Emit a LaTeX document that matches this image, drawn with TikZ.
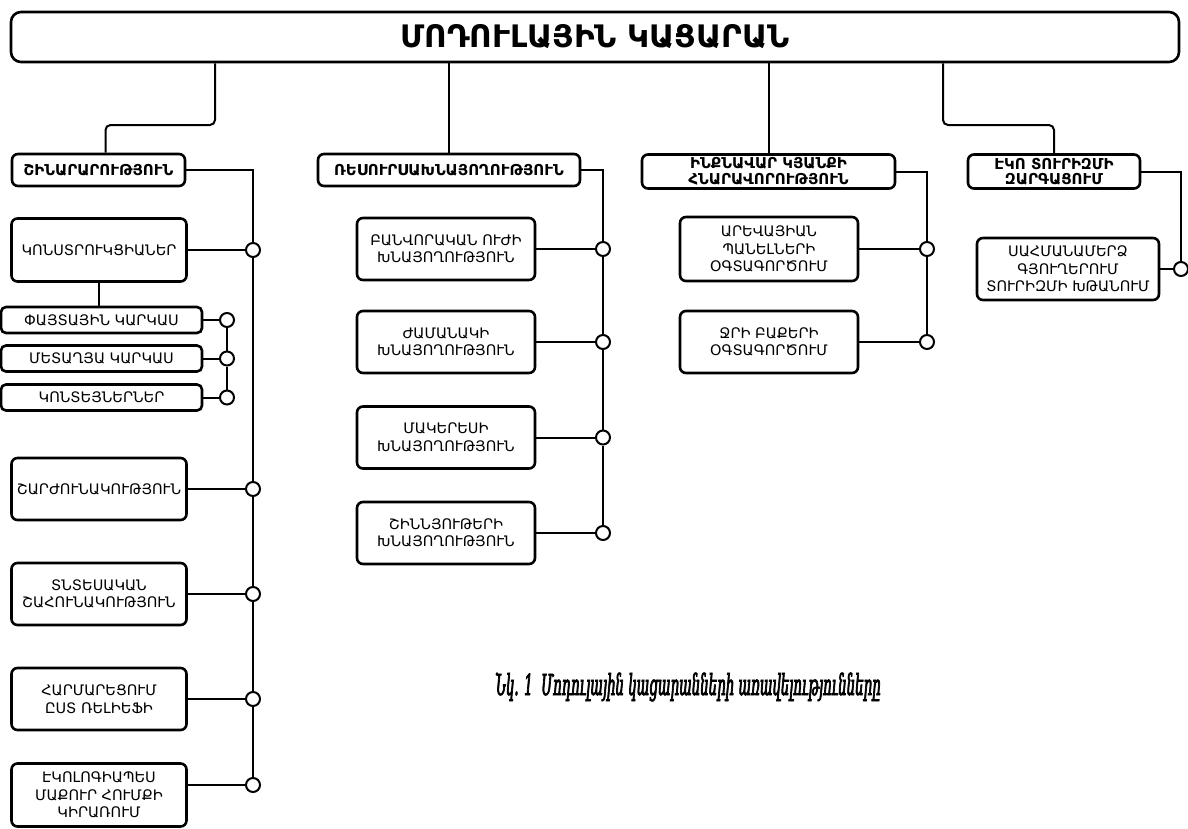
\documentclass[tikz,border=0pt]{standalone}
\usepackage{fontspec}
\setmainfont{DejaVu Sans}
\newfontfamily\capfont[FakeStretch=0.46, FakeBold=2.4]{DejaVu Serif}
\begin{document}
\begin{tikzpicture}[x=1pt, y=-1pt, line width=2pt,
  every node/.style={align=center, inner sep=1.5pt},
  box/.style={draw, line width=2.6pt, rounded corners=6pt, font=\fontsize{14.5}{17.5}\selectfont},
  head/.style={box, font=\bfseries\fontsize{15}{15.5}\selectfont},
  dot/.style={draw, circle, fill=white, line width=2pt, minimum size=14pt, inner sep=0pt}]
\useasboundingbox (0,0) rectangle (1188,828);

\node (main) [box, minimum width=1168, minimum height=50, rounded corners=10pt, font=\bfseries\fontsize{31}{33}\selectfont] at (595,37) {ՄՈԴՈՒԼԱՅԻՆ ԿԱՑԱՐԱՆ};

\node (build) [head, minimum width=173, minimum height=32] at (98.5,170) {ՇԻՆԱՐԱՐՈՒԹՅՈՒՆ};
\node (res) [head, minimum width=262, minimum height=32] at (449,170) {ՌԵՍՈՒՐՍԱԽՆԱՅՈՂՈՒԹՅՈՒՆ};
\node (auto) [head, minimum width=253, minimum height=34] at (768.5,171.5) {ԻՆՔՆԱՎԱՐ ԿՅԱՆՔԻ\\ՀՆԱՐԱՎՈՐՈՒԹՅՈՒՆ};
\node (eco) [head, minimum width=172, minimum height=34] at (1054,171.5) {ԷԿՈ ՏՈՒՐԻԶՄԻ\\ԶԱՐԳԱՑՈՒՄ};

\node (constr) [box, minimum width=175, minimum height=63] at (99,250) {ԿՈՆՍՏՐՈՒԿՑԻԱՆԵՐ};
\node (wood) [box, minimum width=201, minimum height=26, rounded corners=5pt] at (101.5,320) {ՓԱՅՏԱՅԻՆ ԿԱՐԿԱՍ};
\node (metal) [box, minimum width=201, minimum height=26, rounded corners=5pt] at (101.5,358.5) {ՄԵՏԱՂՅԱ ԿԱՐԿԱՍ};
\node (cont) [box, minimum width=201, minimum height=26, rounded corners=5pt] at (101.5,397.5) {ԿՈՆՏԵՅՆԵՐՆԵՐ};
\node (mobile) [box, minimum width=175, minimum height=62] at (99,489) {ՇԱՐԺՈՒՆԱԿՈՒԹՅՈՒՆ};
\node (econ) [box, minimum width=175, minimum height=62] at (99,594) {ՏՆՏԵՍԱԿԱՆ\\ՇԱՀՈՒՆԱԿՈՒԹՅՈՒՆ};
\node (relief) [box, minimum width=175, minimum height=62] at (99,699) {ՀԱՐՄԱՐԵՑՈՒՄ\\ԸՍՏ ՌԵԼԻԵՖԻ};
\node (green) [box, minimum width=175, minimum height=63] at (99,795) {ԷԿՈԼՈԳԻԱՊԵՍ\\ՄԱՔՈՒՐ ՀՈՒՄՔԻ\\ԿԻՐԱՌՈՒՄ};

\node (labor) [box, minimum width=178, minimum height=62] at (446,249) {ԲԱՆՎՈՐԱԿԱՆ ՈՒԺԻ\\ԽՆԱՅՈՂՈՒԹՅՈՒՆ};
\node (time) [box, minimum width=178, minimum height=62] at (446,342) {ԺԱՄԱՆԱԿԻ\\ԽՆԱՅՈՂՈՒԹՅՈՒՆ};
\node (area) [box, minimum width=178, minimum height=62] at (446,437.5) {ՄԱԿԵՐԵՍԻ\\ԽՆԱՅՈՂՈՒԹՅՈՒՆ};
\node (mat) [box, minimum width=178, minimum height=62] at (446,533) {ՇԻՆՆՅՈՒԹԵՐԻ\\ԽՆԱՅՈՂՈՒԹՅՈՒՆ};

\node (solar) [box, minimum width=178, minimum height=64] at (769,249) {ԱՐԵՎԱՅԻԱՆ\\ՊԱՆԵԼՆԵՐԻ\\ՕԳՏԱԳՈՐԾՈՒՄ};
\node (water) [box, minimum width=178, minimum height=62] at (769,342) {ՋՐԻ ԲԱՔԵՐԻ\\ՕԳՏԱԳՈՐԾՈՒՄ};

\node (border) [box, minimum width=182, minimum height=62] at (1068,269) {ՍԱՀՄԱՆԱՄԵՐՁ\\ԳՅՈՒՂԵՐՈՒՄ\\ՏՈՒՐԻԶՄԻ ԽԹԱՆՈՒՄ};

\node (d1) [dot] at (constr -| 253,0) {};
\node (d2) [dot] at (mobile -| 253,0) {};
\node (d3) [dot] at (econ -| 253,0) {};
\node (d4) [dot] at (relief -| 253,0) {};
\node (d5) [dot] at (253,785) {};
\node (s1) [dot] at (wood -| 227,0) {};
\node (s2) [dot] at (metal -| 227,0) {};
\node (s3) [dot] at (cont -| 227,0) {};
\node (r1) [dot] at (labor -| 603,0) {};
\node (r2) [dot] at (time -| 603,0) {};
\node (r3) [dot] at (area -| 603,0) {};
\node (r4) [dot] at (mat -| 603,0) {};
\node (a1) [dot] at (solar -| 927,0) {};
\node (a2) [dot] at (water -| 927,0) {};
\node (e1) [dot] at (border -| 1181,0) {};

\coordinate (b1) at (215,125);
\coordinate (b4) at (943,125);
\draw[rounded corners=5pt] (main.south -| b1) -- (b1) -| ([xshift=7pt]build.north);
\draw (main.south -| res.north) -- (res.north);
\draw (main.south -| auto.north) -- (auto.north);
\draw[rounded corners=5pt] (main.south -| b4) -- (b4) -| (eco.north);

\draw (build.east) -| (d1);
\draw (d1) -- (d2) -- (d3) -- (d4) -- (d5);
\draw (constr) -- (d1);
\draw (mobile) -- (d2);
\draw (econ) -- (d3);
\draw (relief) -- (d4);
\draw (green.east |- d5) -- (d5);
\draw (constr.south) -- (constr.south |- wood.north);
\draw (wood) -- (s1);
\draw (metal) -- (s2);
\draw (cont) -- (s3);
\draw (s1) -- (s2) -- (s3);

\draw (res.east) -| (r1);
\draw (r1) -- (r2) -- (r3) -- (r4);
\draw (labor) -- (r1);
\draw (time) -- (r2);
\draw (area) -- (r3);
\draw (mat) -- (r4);

\draw (auto.east) -| (a1);
\draw (a1) -- (a2);
\draw (solar) -- (a1);
\draw (water) -- (a2);

\draw (eco.east) -| (e1);
\draw (border) -- (e1);

\node (cap) at (688,687) {\capfont\itshape\fontsize{29}{31}\selectfont Նկ. 1\ \ Մոդուլային կացարանների առավելությունները};
\end{tikzpicture}
\end{document}
